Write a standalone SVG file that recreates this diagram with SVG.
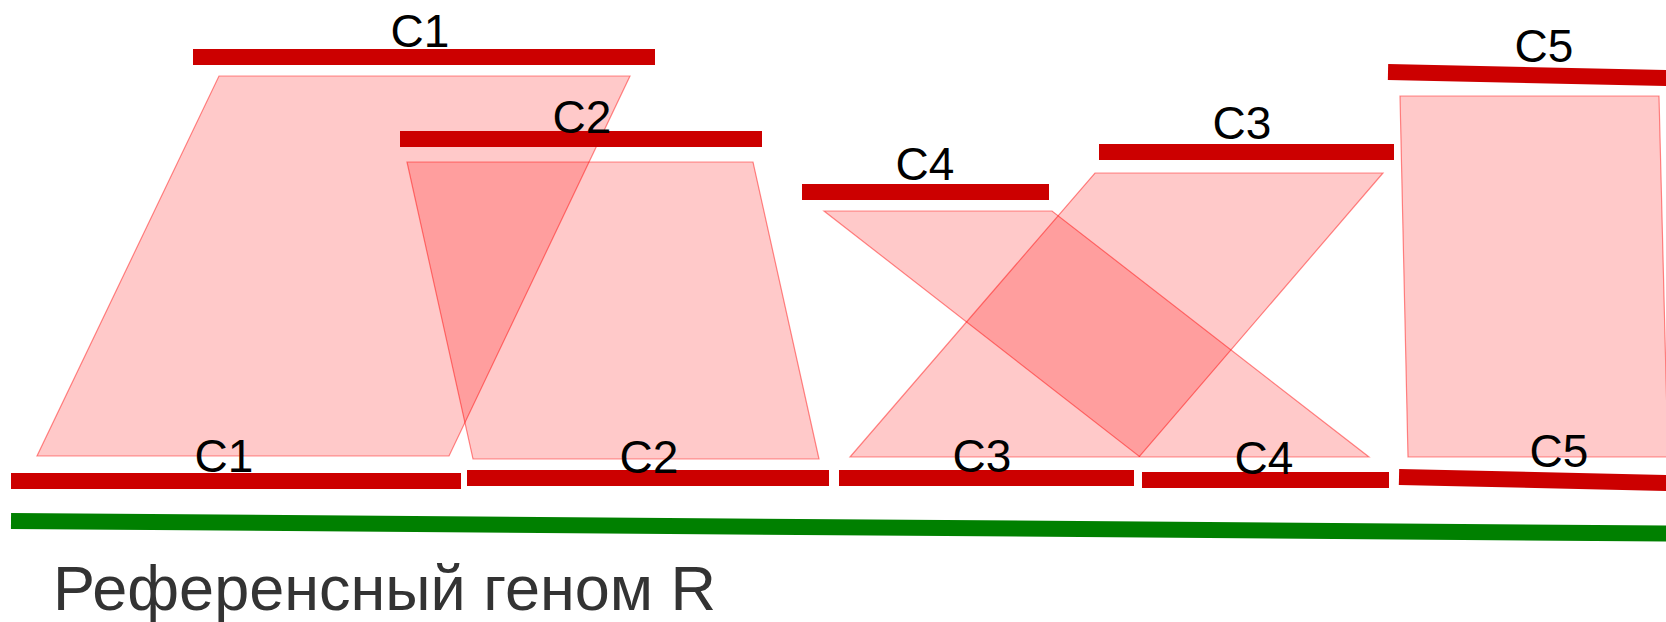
<svg xmlns="http://www.w3.org/2000/svg" width="1666" height="622" viewBox="0 0 1666 622">
  <style>
    .bar { stroke: #cc0000; stroke-width: 16; fill: none; }
    .lbl { font-family: "Liberation Sans", Arial, sans-serif; font-size: 46px; fill: #000; text-anchor: middle; }
    .link { fill: #ff0000; fill-opacity: 0.21; stroke: #ff0000; stroke-opacity: 0.45; stroke-width: 1.2; }
    .genome { stroke: #008000; stroke-width: 16; fill: none; }
    .title { font-family: "Liberation Sans", Arial, sans-serif; font-size: 63px; fill: #333333; }
  </style>

  <!-- synteny blocks between assembled and reference contigs -->
  <g id="connectors">
    <polygon class="link" points="219,76 630,76 449,456 37,456"/>
    <polygon class="link" points="407,162 753,162 819,459 473,459"/>
    <polygon class="link" points="824,211 1052,211 1369,457 1140,457"/>
    <polygon class="link" points="1095,173 1383,173 1139,457 850,457"/>
    <polygon class="link" points="1400,96 1659,96 1668,457 1408,457"/>
  </g>

  <!-- assembled contigs -->
  <g id="q-c1">
    <line class="bar" x1="193" y1="57" x2="655" y2="57"/>
    <text class="lbl" x="420" y="47">C1</text>
  </g>
  <g id="q-c2">
    <line class="bar" x1="400" y1="139" x2="762" y2="139"/>
    <text class="lbl" x="582" y="133">C2</text>
  </g>
  <g id="q-c4">
    <line class="bar" x1="802" y1="192" x2="1049" y2="192"/>
    <text class="lbl" x="925" y="180">C4</text>
  </g>
  <g id="q-c3">
    <line class="bar" x1="1099" y1="152" x2="1394" y2="152"/>
    <text class="lbl" x="1242" y="139">C3</text>
  </g>
  <g id="q-c5">
    <line class="bar" x1="1388" y1="72" x2="1668" y2="78"/>
    <text class="lbl" x="1544" y="62">C5</text>
  </g>

  <!-- reference contigs -->
  <g id="r-c1">
    <line class="bar" x1="11" y1="481" x2="461" y2="481"/>
    <text class="lbl" x="224" y="472">C1</text>
  </g>
  <g id="r-c2">
    <line class="bar" x1="467" y1="478" x2="829" y2="478"/>
    <text class="lbl" x="649" y="473">C2</text>
  </g>
  <g id="r-c3">
    <line class="bar" x1="839" y1="478" x2="1134" y2="478"/>
    <text class="lbl" x="982" y="472">C3</text>
  </g>
  <g id="r-c4">
    <line class="bar" x1="1142" y1="480" x2="1389" y2="480"/>
    <text class="lbl" x="1264" y="474">C4</text>
  </g>
  <g id="r-c5">
    <line class="bar" x1="1399" y1="477" x2="1668" y2="483"/>
    <text class="lbl" x="1559" y="467">C5</text>
  </g>

  <!-- reference genome -->
  <g id="reference">
    <line class="genome" x1="11" y1="521" x2="1668" y2="533.5"/>
    <text class="title" x="53" y="610">Референсный геном R</text>
  </g>
</svg>
